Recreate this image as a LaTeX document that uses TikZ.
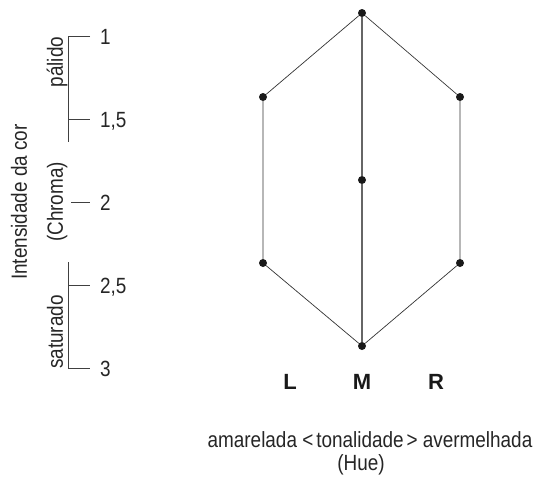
\documentclass[tikz,border=0pt]{standalone}
\usepackage{fontspec}
\setmainfont{Liberation Sans}[FakeStretch=0.86]
\newfontfamily\lmrfont{Liberation Sans}[FakeStretch=1.0]
\begin{document}
\begin{tikzpicture}[x=1pt,y=-1pt,
  dot/.style={circle,fill=black!90,inner sep=0pt,minimum size=8pt},
  edge/.style={draw=black!80,line width=0.7pt},
  axis/.style={draw=black!75,line width=0.9pt},
  lab/.style={font=\fontsize{22}{24}\selectfont,text=black!85,inner sep=0pt},
  hue/.style={font=\lmrfont\fontsize{22}{24}\selectfont\bfseries,text=black!90,inner sep=0pt}]
\useasboundingbox (0,0) rectangle (542,477);
% hexagon nodes
\node[dot] (T) at (362,13) {};
\node[dot] (LU) at (263,97) {};
\node[dot] (RU) at (460,97) {};
\node[dot] (C) at (362,180) {};
\node[dot] (LL) at (263,263) {};
\node[dot] (RL) at (460,263) {};
\node[dot] (B) at (362,346) {};
\draw[edge] (T) -- (LU) -- (LL) -- (B) -- (RL) -- (RU) -- (T);
\draw[draw=black!60,line width=1.4pt] (T) -- (C) -- (B);
% axis
\coordinate (a1) at (68,36);
\coordinate (a1e) at (68,142);
\coordinate (t1) at (90,36);
\coordinate (a15) at (68,119);
\coordinate (t15) at (90,119);
\coordinate (a2) at (71,202);
\coordinate (t2) at (90,202);
\coordinate (a25s) at (68,262);
\coordinate (a25) at (68,285);
\coordinate (t25) at (90,285);
\coordinate (a3) at (68,368);
\coordinate (t3) at (90,368);
\draw[axis] (t1) -- (a1) -- (a1e);
\draw[axis] (a15) -- (t15);
\draw[axis] (a2) -- (t2);
\draw[axis] (a25s) -- (a3) -- (t3);
\draw[axis] (a25) -- (t25);
% numbers
\node[lab,anchor=base west] (n1) at (100,44) {1};
\node[lab,anchor=base west] (n15) at (100,127) {1,5};
\node[lab,anchor=base west] (n2) at (100,210) {2};
\node[lab,anchor=base west] (n25) at (100,293) {2,5};
\node[lab,anchor=base west] (n3) at (100,376) {3};
% rotated labels
\node[lab,rotate=90,anchor=base] (pal) at (63,62) {pálido};
\node[lab,rotate=90,anchor=base] (chr) at (63,202) {(Chroma)};
\node[lab,rotate=90,anchor=base] (sat) at (63,332) {saturado};
\node[lab,rotate=90,anchor=base] (int) at (27,202) {Intensidade da cor};
% hue labels
\node[hue,anchor=base] (L) at (290,389) {L};
\node[hue,anchor=base] (M) at (362,389) {M};
\node[hue,anchor=base] (R) at (436,389) {R};
\node[lab,anchor=base] (h1) at (370,447) {amarelada <\kern3pt tonalidade\kern3pt> avermelhada};
\node[lab,anchor=base] (h2) at (361,470) {(Hue)};
\end{tikzpicture}
\end{document}
